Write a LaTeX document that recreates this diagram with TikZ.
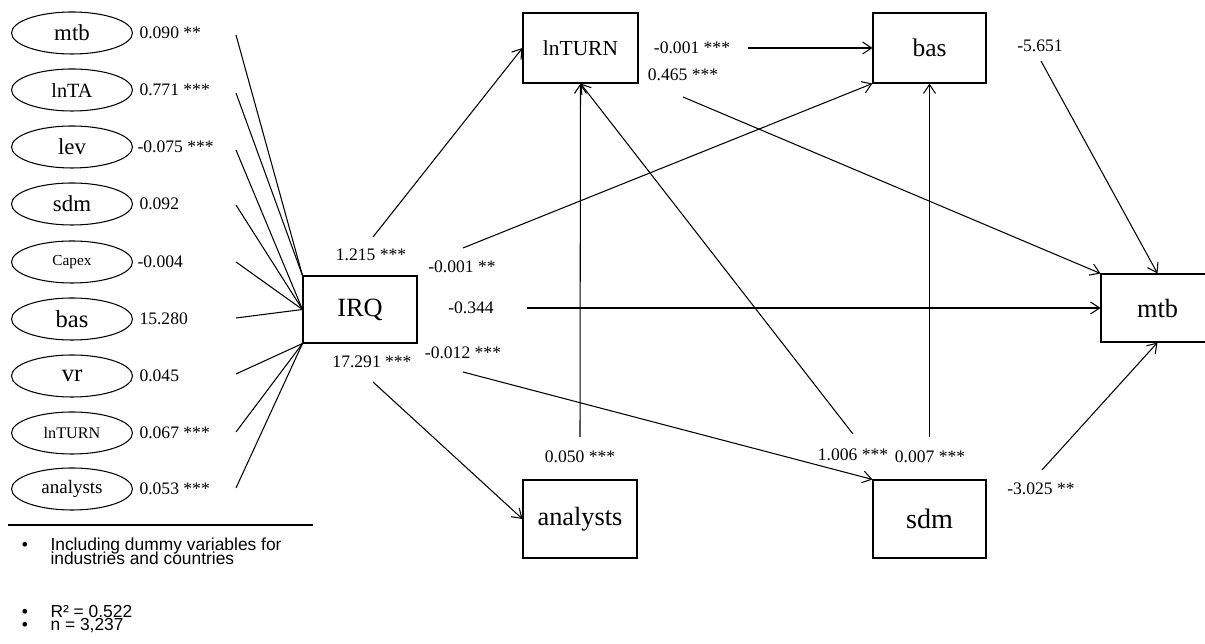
\documentclass[tikz,border=0pt]{standalone}
\usepackage{fontspec}
\setmainfont{Liberation Serif}
\newfontfamily\notefont{Liberation Sans}
\usetikzlibrary{shapes.geometric,arrows.meta}

\begin{document}
\begin{tikzpicture}[x=0.02cm,y=-0.02cm,line width=0.6pt,>={Straight Barb[length=1.8mm,width=2.4mm]},
 var/.style={draw,ellipse,minimum width=2.42cm,minimum height=0.84cm,inner sep=0pt,font=\fontsize{13}{13}\selectfont},
 box/.style={draw,minimum width=2.28cm,minimum height=1.4cm,inner sep=0pt,font=\fontsize{15}{15}\selectfont},
 coef/.style={inner sep=0pt,font=\fontsize{10}{10}\selectfont},
 note/.style={anchor=base west,inner sep=0pt,font=\notefont\fontsize{9.9}{9.9}\selectfont}]
\useasboundingbox (0,0) rectangle (1205,644);

\node[var] (Vmtb) at (72,33) {mtb};
\node[var,font=\fontsize{11.5}{11.5}\selectfont] (VlnTA) at (72,90) {lnTA};
\node[var] (Vlev) at (72,147) {lev};
\node[var] (Vsdm) at (72,204) {sdm};
\node[var,font=\fontsize{8.7}{8.7}\selectfont] (Vcapex) at (72,262) {Capex};
\node[var,font=\fontsize{14}{14}\selectfont] (Vbas) at (72,319) {bas};
\node[var,font=\fontsize{14}{14}\selectfont] (Vvr) at (72,376) {vr};
\node[var,font=\fontsize{9.2}{9.2}\selectfont] (VlnTURN) at (72,433) {lnTURN};
\node[var,font=\fontsize{10.8}{10.8}\selectfont] (Vanalysts) at (72,489) {analysts};

\node[coef,anchor=west] (Cmtb) at (139,33) {0.090 **};
\node[coef,anchor=west] (ClnTA) at (139,90) {0.771 ***};
\node[coef,anchor=west] (Clev) at (137,147) {-0.075 ***};
\node[coef,anchor=west] (Csdm) at (139,204) {0.092};
\node[coef,anchor=west] (Ccapex) at (137,262) {-0.004};
\node[coef,anchor=west] (Cbas) at (139,319) {15.280};
\node[coef,anchor=west] (Cvr) at (139,376) {0.045};
\node[coef,anchor=west] (ClnTURN) at (139,433) {0.067 ***};
\node[coef,anchor=west] (Canalysts) at (139,489) {0.053 ***};

\node[box,minimum height=1.34cm] (IRQ) at (360,309.5) {IRQ};
\node[box,minimum width=2.3cm,font=\fontsize{12.2}{12.2}\selectfont] (lnTURN) at (580.5,48) {lnTURN};
\node[box,minimum width=2.26cm,font=\fontsize{14.5}{14.5}\selectfont] (bas) at (929.5,48) {bas};
\node[box,minimum width=2.26cm,minimum height=1.36cm] (mtb) at (1157.5,308) {mtb};
\node[box,minimum height=1.56cm] (analysts) at (580,519) {analysts};
\node[box,minimum width=2.26cm,minimum height=1.56cm,font=\fontsize{16}{16}\selectfont] (sdm) at (929.5,519) {sdm};

\coordinate (Smtb) at (236,35);
\coordinate (SlnTA) at (236,93);
\coordinate (Slev) at (236,150);
\coordinate (Ssdm) at (236,205);
\coordinate (Scapex) at (236,262);
\coordinate (Sbas) at (236,318);
\coordinate (Svr) at (236,374);
\coordinate (SlnTURN) at (236,432);
\coordinate (Sanalysts) at (236,488);
\draw (Smtb)--(IRQ.north west);
\draw (SlnTA)--(IRQ.north west);
\draw (Slev)--(IRQ.west);
\draw (Ssdm)--(IRQ.west);
\draw (Scapex)--(IRQ.west);
\draw (Sbas)--(IRQ.west);
\draw (Svr)--(IRQ.south west);
\draw (SlnTURN)--(IRQ.south west);
\draw (Sanalysts)--(IRQ.south west);

\node[coef] (L1) at (371,255) {1.215 ***};
\node[coef] (L2) at (372,362) {17.291 ***};
\node[coef] (L3) at (462,267) {-0.001 **};
\node[coef] (L4) at (471,308) {-0.344};
\node[coef] (L5) at (463,353) {-0.012 ***};
\node[coef] (L6) at (692,48) {-0.001 ***};
\node[coef] (L7) at (683,75) {0.465 ***};
\node[coef] (L8) at (1040,46) {-5.651};
\node[coef] (L9) at (580,457) {0.050 ***};
\node[coef] (L10) at (853,455) {1.006 ***};
\node[coef] (L11) at (930,457) {0.007 ***};
\node[coef] (L12) at (1041,489) {-3.025 **};

\coordinate (P1) at (373,237);
\coordinate (P2) at (373,382);
\coordinate (P3) at (463,248);
\coordinate (P4) at (527,308);
\coordinate (P5) at (463,372);
\coordinate (P6) at (748,48);
\coordinate (P7) at (683,97);
\coordinate (P8) at (1041,61);
\coordinate (P9) at (580,437);
\coordinate (P10) at (853,434);
\coordinate (P11) at (929.5,437);
\coordinate (P12) at (1042,470);
\draw[->] (P1)--(lnTURN.west);
\draw[->] (P2)--(analysts.west);
\draw[->] (P3)--(bas.south west);
\draw[->] (P4)--(mtb.west);
\draw[->] (P5)--(sdm.north west);
\draw[->] (P6)--(bas.west);
\draw[->] (P7)--(mtb.north west);
\draw[->] (P8)--(mtb.north);
\draw[->] (P9)--(lnTURN.south);
\draw[->] (P10)--(lnTURN.south);
\draw[->] (P11)--(bas.south);
\draw[->] (P12)--(mtb.south);

\coordinate (R1) at (8,525);
\coordinate (R2) at (313,525);
\draw (R1)--(R2);
\node[note,anchor=base] (B1) at (25,550.7) {\textbullet};
\node[note] (N1a) at (50,550.7) {Including dummy variables for};
\node[note] (N1b) at (50,564.5) {industries and countries};
\node[note,anchor=base] (B2) at (25,617.3) {\textbullet};
\node[note] (N2) at (50,617.3) {R² = 0.522};
\node[note,anchor=base] (B3) at (25,631) {\textbullet};
\node[note] (N3) at (50,631) {n = 3,237};
\end{tikzpicture}
\end{document}
